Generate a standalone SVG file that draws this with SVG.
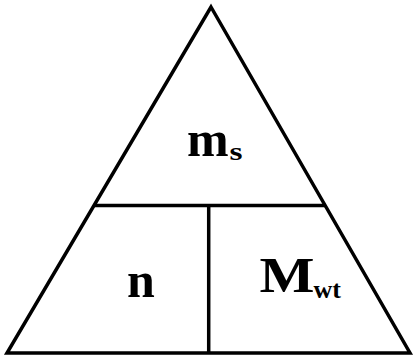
<svg xmlns="http://www.w3.org/2000/svg" width="414" height="358" viewBox="0 0 414 358">
<style>
.ln{stroke:#000;stroke-width:3.5;fill:none;stroke-linejoin:miter}
.t{font-family:"Liberation Serif","Times New Roman",serif;font-weight:bold;fill:#000}
.big{font-size:50px}
.sub{font-size:26px}
</style>
<rect width="414" height="358" fill="#fff"/>
<g id="connectors">
<polygon class="ln" points="211,7 410,353 7,353"/>
<line class="ln" x1="94.5" y1="205.5" x2="325.5" y2="205.5"/>
<line class="ln" x1="208.7" y1="205.5" x2="208.7" y2="353"/>
</g>
<g id="node-ms">
<text class="t big" x="187" y="156">m</text>
<text class="t sub" x="229.5" y="160" textLength="13" lengthAdjust="spacingAndGlyphs">s</text>
</g>
<g id="node-n"><text class="t big" x="127" y="297">n</text></g>
<g id="node-mwt">
<text class="t big" x="259.5" y="292" textLength="55" lengthAdjust="spacingAndGlyphs">M</text>
<text class="t sub" x="313.5" y="297.5">wt</text>
</g>
</svg>
